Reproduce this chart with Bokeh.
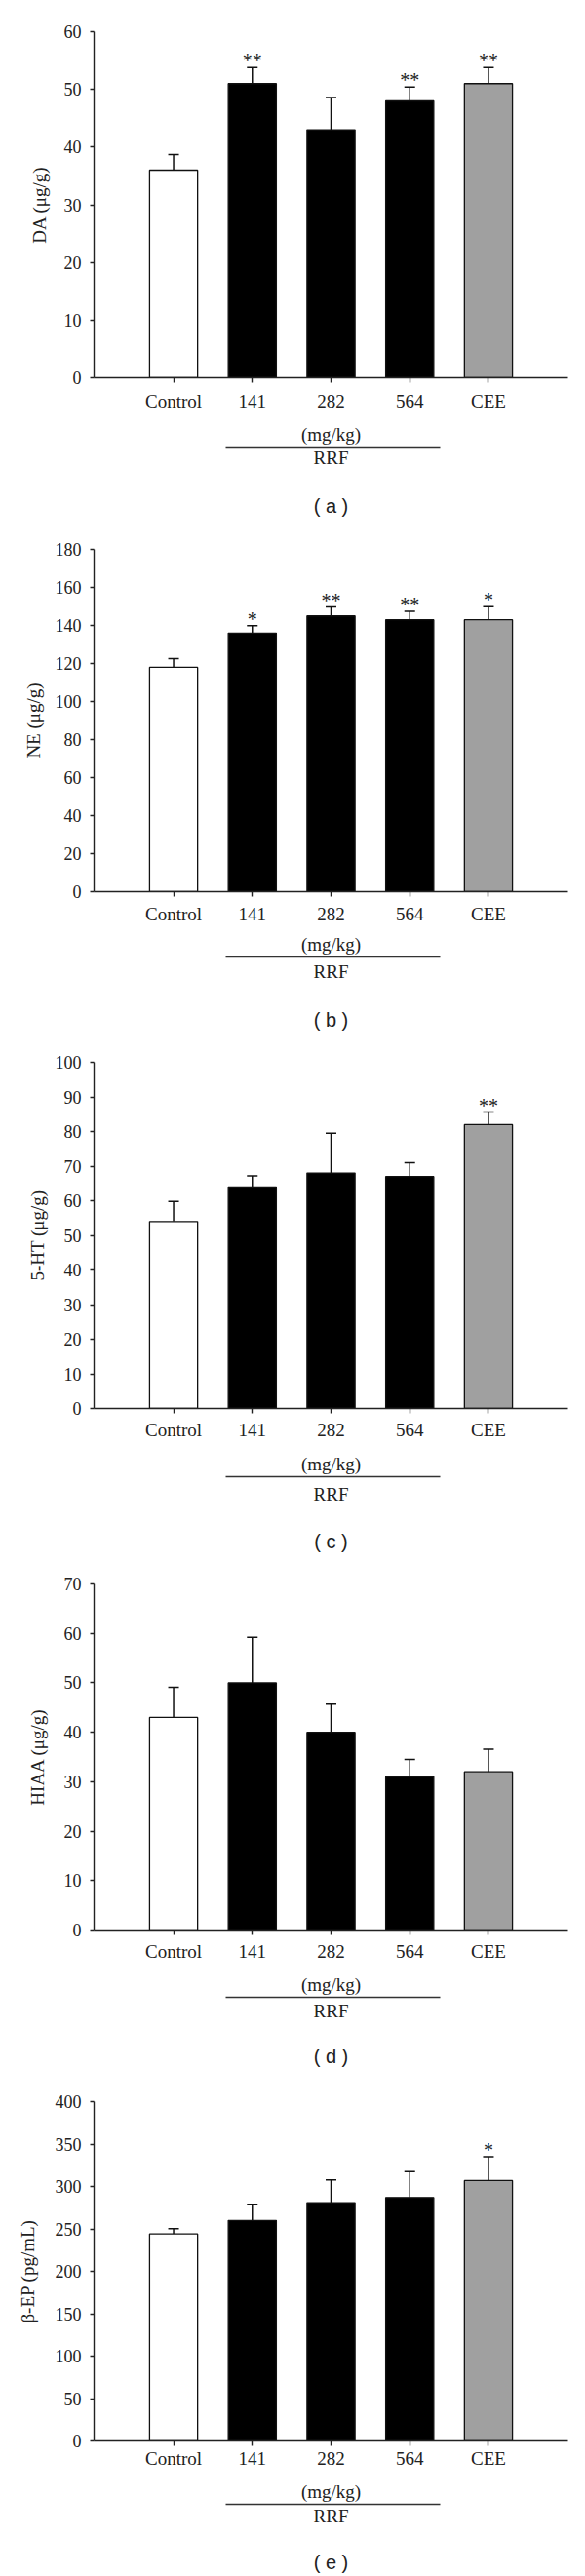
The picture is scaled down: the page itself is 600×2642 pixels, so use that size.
from bokeh.plotting import figure
from bokeh.models import (ColumnDataSource, FactorRange, Range1d, Whisker, TeeHead,
                          FixedTicker, CategoricalAxis, CategoricalScale)
from bokeh.layouts import column
from bokeh.embed import file_html
from bokeh.resources import INLINE
from bokeh.core.properties import value

# ---------------- data ----------------
categories = ["Control", "141", "282", "564", "CEE"]
bar_colors = ["white", "black", "black", "black", "#a0a0a0"]

da_mean = [36.0, 51.0, 43.0, 48.0, 51.0]
da_err = [2.7, 2.8, 5.6, 2.4, 2.8]
da_sig = ["", "**", "", "**", "**"]

ne_mean = [118.0, 136.0, 145.0, 143.0, 143.0]
ne_err = [4.6, 3.9, 4.7, 4.4, 6.9]
ne_sig = ["", "*", "**", "**", "*"]

ht_mean = [54.0, 64.0, 68.0, 67.0, 82.0]
ht_err = [5.8, 3.2, 11.5, 4.0, 3.6]
ht_sig = ["", "", "", "", "**"]

hiaa_mean = [43.0, 50.0, 40.0, 31.0, 32.0]
hiaa_err = [6.1, 9.2, 5.7, 3.5, 4.6]
hiaa_sig = ["", "", "", "", ""]

bep_mean = [244.0, 260.0, 281.0, 287.0, 307.0]
bep_err = [6.3, 19.0, 26.7, 30.6, 28.0]
bep_sig = ["", "", "", "", "*"]

y_labels = ["DA (μg/g)", "NE (μg/g)", "5-HT (μg/g)", "HIAA (μg/g)", "β-EP (pg/mL)"]
y_max = [60, 180, 100, 70, 400]
y_step = [10, 20, 10, 10, 50]
panel_tags = ["( a )", "( b )", "( c )", "( d )", "( e )"]
unit_text = "(mg/kg)"
group_text = "RRF"
group_members = ["141", "282", "564"]

# ---------------- layout (pixels) ----------------
SERIF = "Liberation Serif"
SANS = "Liberation Sans"
INK = "#222222"
FIG_W = 600
PAD = 0.204  # fraction of the 5 categories added as padding (half each side)
layout = [
    # fig height, border top/bottom/left, y-label standoff, centres below frame
    dict(h=536, top=32, bottom=149, left=86, yls=12, cat=25.0, mg=55.8, line=68.9, rrf=81.3, tag=129.8),
    dict(h=528, top=27, bottom=150, left=91, yls=9, cat=23.7, mg=50.7, line=65.7, rrf=81.3, tag=130.2),
    dict(h=532, top=25, bottom=152, left=85, yls=5, cat=23.0, mg=52.6, line=70.5, rrf=87.0, tag=134.0),
    dict(h=528, top=28, bottom=145, left=87, yls=14, cat=22.4, mg=51.6, line=67.2, rrf=81.0, tag=126.6),
    dict(h=518, top=31, bottom=139, left=96, yls=15, cat=19.0, mg=48.3, line=63.9, rrf=76.0, tag=122.3),
]
HALF19 = 11.5   # half text box height, 19px serif
HALF_TAG = 12.0  # half text box height, 20px sans

means = [da_mean, ne_mean, ht_mean, hiaa_mean, bep_mean]
errs = [da_err, ne_err, ht_err, hiaa_err, bep_err]
sigs = [da_sig, ne_sig, ht_sig, hiaa_sig, bep_sig]

n_cat = len(categories)
mid_idx = categories.index(group_members[1])
# single-factor ranges with the same pixel scale, centred on the middle dose
single_pad = n_cat * (1 + PAD) - 1


def style_text_axis(ax, standoff):
    ax.major_label_text_font = SERIF
    ax.major_label_text_font_size = "19px"
    ax.major_label_text_color = INK
    ax.major_label_standoff = standoff
    ax.major_tick_in = 0
    ax.major_tick_out = 0
    ax.major_tick_line_color = None
    ax.minor_tick_line_color = None


figs = []
for i in range(5):
    L = layout[i]
    ymax = y_max[i]

    src = ColumnDataSource(dict(
        cat=categories,
        val=means[i],
        up=[m + e for m, e in zip(means[i], errs[i])],
        color=bar_colors,
        sig=sigs[i],
    ))

    p = figure(width=FIG_W, height=L["h"],
               x_range=FactorRange(factors=categories, range_padding=PAD),
               y_range=Range1d(0, ymax),
               output_backend="svg", toolbar_location=None,
               min_border_top=L["top"], min_border_bottom=L["bottom"],
               min_border_left=L["left"], min_border_right=18)
    p.outline_line_color = None
    p.grid.visible = False
    p.background_fill_color = "white"
    p.border_fill_color = "white"
    p.extra_x_ranges = {
        "unit": FactorRange(factors=[unit_text], range_padding=single_pad),
        "grp": FactorRange(factors=[group_text], range_padding=single_pad),
    }
    p.extra_x_scales = {"unit": CategoricalScale(), "grp": CategoricalScale()}

    p.vbar(x="cat", top="val", width=0.61, source=src, fill_color="color",
           line_color="#111111", line_width=1.3)

    wh = Whisker(base="cat", lower="val", upper="up", source=src,
                 line_color="#111111", line_width=1.5,
                 upper_head=TeeHead(size=11, line_color="#111111", line_width=1.5),
                 lower_head=None)
    p.add_layout(wh)

    p.text(x="cat", y="up", text="sig", source=src, text_align="center",
           text_baseline="middle", text_font=value(SERIF),
           text_font_size="20px", text_color=INK, y_offset=-7)

    # y axis
    ya = p.yaxis[0]
    ya.ticker = FixedTicker(ticks=list(range(0, ymax + 1, y_step[i])))
    ya.axis_label = y_labels[i]
    ya.axis_label_text_font = SERIF
    ya.axis_label_text_font_style = "normal"
    ya.axis_label_text_font_size = "19px"
    ya.axis_label_text_color = INK
    ya.axis_label_standoff = L["yls"]
    ya.major_label_text_font = SERIF
    ya.major_label_text_font_size = "18px"
    ya.major_label_text_color = INK
    ya.major_label_standoff = 9
    ya.major_tick_in = 0
    ya.major_tick_out = 4
    ya.minor_tick_line_color = None
    ya.axis_line_color = INK
    ya.axis_line_width = 1.4
    ya.major_tick_line_color = INK
    ya.major_tick_line_width = 1.4

    # main x axis (categories)
    s1 = max(0.0, L["cat"] - 5 - HALF19)
    end1 = 5 + s1 + 2 * HALF19
    xa = p.xaxis[0]
    xa.major_label_text_font = SERIF
    xa.major_label_text_font_size = "19px"
    xa.major_label_text_color = INK
    xa.major_label_standoff = round(s1)
    xa.major_tick_in = 0
    xa.major_tick_out = 5
    xa.axis_line_color = INK
    xa.axis_line_width = 1.4
    xa.major_tick_line_color = INK
    xa.major_tick_line_width = 1.4

    # "(mg/kg)" row
    mg_eff = (L["mg"] + (L["line"] - HALF19)) / 2 + 1.5
    s2 = max(0.0, mg_eff - HALF19 - end1)
    line_eff = end1 + s2 + 2 * HALF19
    unit_axis = CategoricalAxis(x_range_name="unit", axis_line_color=None)
    style_text_axis(unit_axis, round(s2))
    p.add_layout(unit_axis, "below")

    # bracket line + "RRF" + panel tag
    s3 = max(0.0, L["rrf"] - HALF19 - line_eff)
    end3 = line_eff + s3 + 2 * HALF19
    s4 = max(0.0, L["tag"] - HALF_TAG - end3)
    x_left = categories.index(group_members[0]) + 0.5 - 0.34 - mid_idx
    x_right = categories.index(group_members[-1]) + 0.5 + 0.39 - mid_idx
    grp_axis = CategoricalAxis(x_range_name="grp", bounds=(x_left, x_right),
                               axis_line_color="#333333", axis_line_width=1.6)
    style_text_axis(grp_axis, round(s3))
    grp_axis.axis_label = panel_tags[i]
    grp_axis.axis_label_text_font = SANS
    grp_axis.axis_label_text_font_style = "normal"
    grp_axis.axis_label_text_font_size = "20px"
    grp_axis.axis_label_text_color = INK
    grp_axis.axis_label_standoff = round(s4)
    p.add_layout(grp_axis, "below")

    figs.append(p)

page = column(*figs)
open("out.html", "w").write(file_html(page, INLINE))
